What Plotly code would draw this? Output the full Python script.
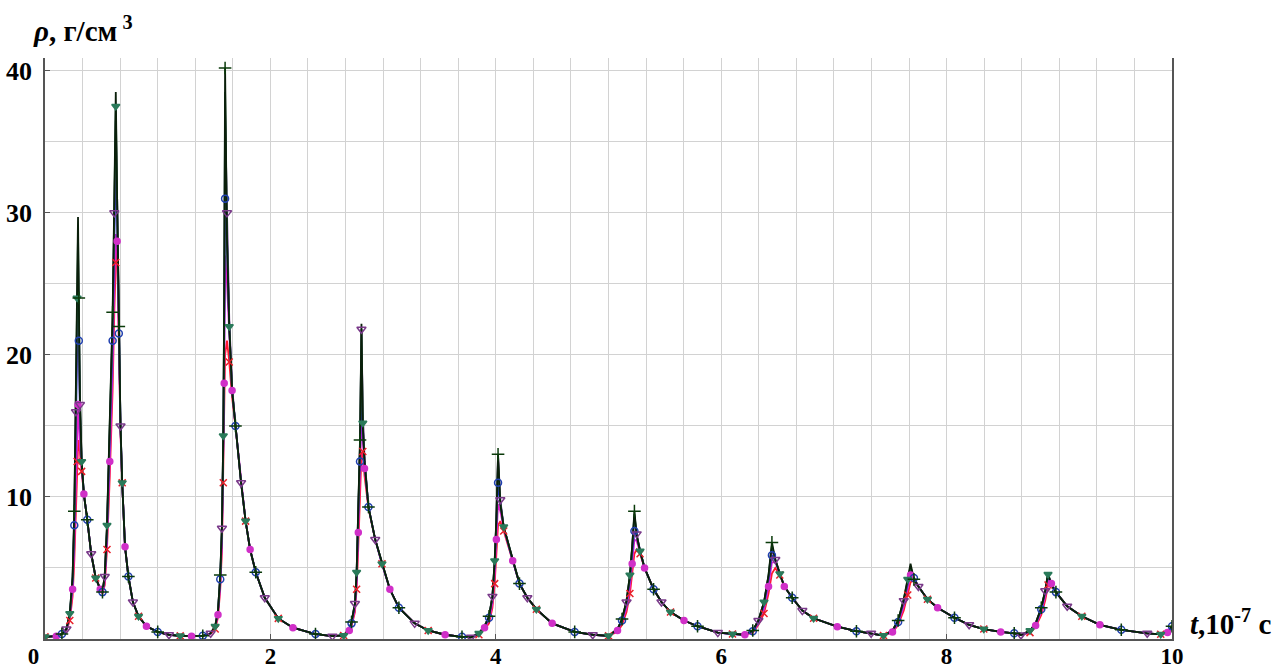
import plotly.graph_objects as go

# time, 1e-7 s
T = [0, 0.1, 0.15, 0.19, 0.22,
     0.245, 0.26, 0.275, 0.285, 0.293, 0.30, 0.31, 0.325, 0.345,
     0.375, 0.41, 0.45, 0.49, 0.51,
     0.53, 0.55, 0.575, 0.60, 0.615, 0.628, 0.64, 0.655, 0.67, 0.685,
     0.71, 0.74, 0.78, 0.83, 0.9, 1.0, 1.1, 1.2, 1.3, 1.4, 1.47, 1.51,
     1.535, 1.555, 1.57, 1.582, 1.59, 1.598, 1.615, 1.635, 1.66, 1.69,
     1.74, 1.78, 1.82, 1.87, 1.95, 2.07, 2.2, 2.4, 2.55, 2.65, 2.7,
     2.72, 2.75, 2.765, 2.78, 2.795, 2.808, 2.82, 2.835, 2.87,
     2.93, 2.99, 3.06, 3.14, 3.28, 3.4, 3.55, 3.7, 3.78, 3.85, 3.9,
     3.94, 3.97, 3.99, 4.005, 4.02, 4.04, 4.07,
     4.15, 4.21, 4.28, 4.36, 4.5, 4.7, 4.86, 5.0, 5.08, 5.12,
     5.16, 5.19, 5.21, 5.23, 5.25, 5.28,
     5.32, 5.40, 5.47, 5.55, 5.67, 5.79, 5.97, 6.1, 6.21, 6.28, 6.33,
     6.38, 6.42, 6.45, 6.48, 6.52,
     6.56, 6.63, 6.72, 6.82, 7.03, 7.2, 7.33, 7.44, 7.52, 7.57,
     7.62, 7.655, 7.68, 7.71,
     7.75, 7.83, 7.92, 8.07, 8.2, 8.33, 8.48, 8.6, 8.66, 8.74, 8.79,
     8.84, 8.875, 8.9, 8.93,
     8.97, 9.07, 9.2, 9.36, 9.55, 9.78, 9.9, 9.96, 10.0]

# density, g/cm^3 — dark line with "+" markers
rho_plus = [0.15, 0.2, 0.35, 0.7, 1.8,
            4.4, 9, 17, 25, 29.7, 24, 17, 12.5, 10.2,
            8.4, 6.0, 4.3, 3.5, 3.3,
            4.5, 8.0, 15, 23, 31, 38.5, 31, 22, 15, 11,
            6.5, 4.4, 2.6, 1.6, 0.9, 0.5, 0.3, 0.22, 0.2, 0.22, 0.4, 0.9,
            2.0, 4.5, 8, 14.5, 24, 40.2, 28, 22, 17.5, 15,
            11, 8.3, 6.3, 4.7, 2.9, 1.45, 0.8, 0.35, 0.2, 0.25, 0.7,
            1.2, 2.5, 4.7, 9.3, 14, 22.2, 15, 12.5, 9.3,
            7.0, 5.3, 3.5, 2.2, 1.1, 0.6, 0.3, 0.15, 0.12, 0.4, 0.9,
            1.6, 3.0, 5.5, 8.5, 13.0, 9.5, 7.9,
            5.5, 3.9, 2.9, 2.1, 1.1, 0.5, 0.3, 0.22, 0.7, 1.4,
            2.7, 4.5, 6.5, 9.0, 7.3, 6.2,
            5.0, 3.5, 2.6, 1.9, 1.3, 0.9, 0.45, 0.35, 0.3, 0.6, 1.3,
            2.6, 4.5, 6.8, 5.6, 4.6,
            3.7, 2.9, 2.0, 1.46, 0.87, 0.55, 0.4, 0.24, 0.6, 1.3,
            2.8, 4.2, 5.3, 4.2,
            3.7, 2.8, 2.2, 1.5, 1.0, 0.7, 0.5, 0.4, 0.28, 0.6, 1.1,
            2.2, 3.4, 4.65, 3.8,
            3.3, 2.3, 1.6, 1.0, 0.65, 0.4, 0.33, 0.5, 0.9]

# green filled triangles
rho_green = [0.15, 0.2, 0.35, 0.7, 1.8,
             4.4, 8.8, 16.5, 24, 28.5, 23.5, 17, 12.5, 10.2,
             8.4, 6.0, 4.3, 3.5, 3.3,
             4.5, 8.0, 14.8, 22.5, 30.5, 37.5, 31, 22, 15, 11,
             6.5, 4.4, 2.6, 1.6, 0.9, 0.5, 0.3, 0.22, 0.2, 0.22, 0.4, 0.9,
             2.0, 4.5, 8, 14.3, 23.5, 38.5, 28.5, 22, 17.5, 15,
             11, 8.3, 6.3, 4.7, 2.9, 1.45, 0.8, 0.35, 0.2, 0.25, 0.7,
             1.2, 2.5, 4.7, 9.2, 13.8, 21.8, 15.2, 12.5, 9.3,
             7.0, 5.3, 3.5, 2.2, 1.1, 0.6, 0.3, 0.15, 0.12, 0.4, 0.9,
             1.6, 3.0, 5.5, 8.4, 12.6, 9.6, 7.9,
             5.5, 3.9, 2.9, 2.1, 1.1, 0.5, 0.3, 0.22, 0.7, 1.4,
             2.7, 4.5, 6.5, 8.8, 7.3, 6.2,
             5.0, 3.5, 2.6, 1.9, 1.3, 0.9, 0.45, 0.35, 0.3, 0.6, 1.3,
             2.6, 4.5, 6.6, 5.6, 4.6,
             3.7, 2.9, 2.0, 1.46, 0.87, 0.55, 0.4, 0.24, 0.6, 1.3,
             2.8, 4.2, 5.1, 4.2,
             3.7, 2.8, 2.2, 1.5, 1.0, 0.7, 0.5, 0.4, 0.28, 0.6, 1.1,
             2.2, 3.4, 4.55, 3.8,
             3.3, 2.3, 1.6, 1.0, 0.65, 0.4, 0.33, 0.5, 0.9]

# purple open triangles
rho_purple = [0.15, 0.2, 0.35, 0.7, 1.75,
              4.2, 8.5, 16, 24, 27.2, 23, 16.5, 12.5, 10.2,
              8.4, 6.0, 4.3, 3.5, 3.3,
              4.4, 7.8, 14.5, 22, 30, 36.5, 31, 22, 15, 11,
              6.5, 4.4, 2.6, 1.6, 0.9, 0.5, 0.3, 0.22, 0.2, 0.22, 0.4, 0.9,
              2.0, 4.4, 7.8, 14, 23, 37, 30, 22.5, 17.8, 15,
              11, 8.3, 6.3, 4.7, 2.9, 1.45, 0.8, 0.35, 0.2, 0.25, 0.7,
              1.2, 2.5, 4.6, 9, 13.5, 21.8, 16, 12.8, 9.3,
              7.0, 5.3, 3.5, 2.2, 1.1, 0.6, 0.3, 0.15, 0.12, 0.4, 0.9,
              1.6, 3.0, 5.4, 8.3, 12.9, 9.8, 7.9,
              5.5, 3.9, 2.9, 2.1, 1.1, 0.5, 0.3, 0.22, 0.7, 1.4,
              2.6, 4.4, 6.4, 8.6, 7.4, 6.2,
              5.0, 3.5, 2.6, 1.9, 1.3, 0.9, 0.45, 0.35, 0.3, 0.6, 1.3,
              2.6, 4.4, 6.3, 5.6, 4.6,
              3.7, 2.9, 2.0, 1.46, 0.87, 0.55, 0.4, 0.24, 0.6, 1.3,
              2.7, 4.1, 5.0, 4.3,
              3.7, 2.8, 2.2, 1.5, 1.0, 0.7, 0.5, 0.4, 0.28, 0.6, 1.1,
              2.2, 3.4, 4.5, 3.9,
              3.3, 2.3, 1.6, 1.0, 0.65, 0.4, 0.33, 0.5, 0.9]

# blue open circles
rho_blue = [0.15, 0.2, 0.35, 0.7, 1.7,
            4.0, 8, 15, 22, 24, 21, 16, 12.5, 10.2,
            8.4, 6.0, 4.3, 3.5, 3.3,
            4.3, 7.5, 14, 21, 28, 33, 30, 21.5, 15, 11,
            6.5, 4.4, 2.6, 1.6, 0.9, 0.5, 0.3, 0.22, 0.2, 0.22, 0.4, 0.85,
            1.9, 4.2, 7.5, 13.5, 21, 31, 28, 22, 17.5, 15,
            11, 8.3, 6.3, 4.7, 2.9, 1.45, 0.8, 0.35, 0.2, 0.25, 0.65,
            1.1, 2.4, 4.4, 8.5, 12.5, 17, 15, 12.5, 9.3,
            7.0, 5.3, 3.5, 2.2, 1.1, 0.6, 0.3, 0.15, 0.12, 0.4, 0.85,
            1.5, 2.9, 5.2, 8.0, 11, 9.6, 7.9,
            5.5, 3.9, 2.9, 2.1, 1.1, 0.5, 0.3, 0.22, 0.65, 1.3,
            2.5, 4.2, 6.0, 7.6, 7.2, 6.2,
            5.0, 3.5, 2.6, 1.9, 1.3, 0.9, 0.45, 0.35, 0.3, 0.55, 1.2,
            2.4, 4.2, 5.9, 5.5, 4.6,
            3.7, 2.9, 2.0, 1.46, 0.87, 0.55, 0.4, 0.24, 0.55, 1.2,
            2.6, 4.0, 4.8, 4.3,
            3.7, 2.8, 2.2, 1.5, 1.0, 0.7, 0.5, 0.4, 0.28, 0.55, 1.0,
            2.1, 3.3, 4.4, 3.9,
            3.3, 2.3, 1.6, 1.0, 0.65, 0.4, 0.33, 0.5, 0.9]

# magenta filled circles
rho_magenta = [0.15, 0.2, 0.35, 0.65, 1.5,
               3.5, 6.5, 11, 15, 16.5, 15.5, 13.5, 12, 10.2,
               8.4, 6.0, 4.3, 3.5, 3.2,
               4.0, 6.8, 12.5, 19, 25, 28.5, 28, 21, 14.5, 11,
               6.5, 4.4, 2.6, 1.6, 0.9, 0.5, 0.3, 0.22, 0.2, 0.22, 0.38, 0.8,
               1.7, 3.8, 6.8, 12, 18, 27, 25, 21.5, 17.5, 15,
               11, 8.3, 6.3, 4.7, 2.9, 1.45, 0.8, 0.35, 0.2, 0.25, 0.6,
               1.0, 2.1, 3.9, 7.5, 11, 15.5, 14, 12, 9.3,
               7.0, 5.3, 3.5, 2.2, 1.1, 0.6, 0.3, 0.15, 0.12, 0.35, 0.8,
               1.3, 2.5, 4.5, 7.0, 9.5, 9.0, 7.8,
               5.5, 3.9, 2.9, 2.1, 1.1, 0.5, 0.3, 0.22, 0.6, 1.2,
               2.2, 3.7, 5.3, 7.0, 6.9, 6.1,
               5.0, 3.5, 2.6, 1.9, 1.3, 0.9, 0.45, 0.35, 0.3, 0.5, 1.1,
               2.1, 3.7, 5.4, 5.4, 4.6,
               3.7, 2.9, 2.0, 1.46, 0.87, 0.55, 0.4, 0.24, 0.5, 1.1,
               2.3, 3.6, 4.5, 4.3,
               3.7, 2.8, 2.2, 1.5, 1.0, 0.7, 0.5, 0.4, 0.28, 0.5, 0.95,
               1.9, 3.0, 4.2, 3.9,
               3.3, 2.3, 1.6, 1.0, 0.65, 0.4, 0.33, 0.45, 0.8]

# red crosses
rho_red = [0.15, 0.2, 0.35, 0.6, 1.3,
           3.0, 5.5, 9, 12.5, 13.5, 14, 13.2, 11.8, 10.2,
           8.4, 6.0, 4.3, 3.5, 3.2,
           3.8, 6.3, 11.5, 17.5, 23, 26.5, 27.5, 21, 14.5, 11,
           6.5, 4.4, 2.6, 1.6, 0.9, 0.5, 0.3, 0.22, 0.2, 0.22, 0.35, 0.7,
           1.5, 3.5, 6.2, 11, 15.5, 20, 21, 19.5, 17, 15,
           11, 8.3, 6.3, 4.7, 2.9, 1.45, 0.8, 0.35, 0.2, 0.25, 0.55,
           0.9, 1.9, 3.5, 6.5, 9.5, 13, 13.2, 11.5, 9.2,
           7.0, 5.3, 3.5, 2.2, 1.1, 0.6, 0.3, 0.15, 0.12, 0.3, 0.7,
           1.1, 2.2, 3.9, 6.0, 8.0, 8.3, 7.6,
           5.5, 3.9, 2.9, 2.1, 1.1, 0.5, 0.3, 0.22, 0.5, 1.0,
           1.9, 3.2, 4.6, 6.0, 6.3, 6.0,
           5.0, 3.5, 2.6, 1.9, 1.3, 0.9, 0.45, 0.35, 0.3, 0.45, 1.0,
           1.8, 3.2, 4.6, 5.0, 4.5,
           3.7, 2.9, 2.0, 1.46, 0.87, 0.55, 0.4, 0.24, 0.45, 1.0,
           2.0, 3.1, 4.0, 4.1,
           3.7, 2.8, 2.2, 1.5, 1.0, 0.7, 0.5, 0.4, 0.28, 0.45, 0.85,
           1.7, 2.7, 3.8, 3.8,
           3.3, 2.3, 1.6, 1.0, 0.65, 0.4, 0.33, 0.42, 0.75]

x_labels = [0, 2, 4, 6, 8, 10]
y_labels = [10, 20, 30, 40]

series = [
    # name, values, line colour, marker symbol, marker colour, size, marker offset
    ("red", rho_red, "#ff1a2e", "x-thin", "#e8202a", 7, 0),
    ("magenta", rho_magenta, "#e020d0", "circle", "#d030c8", 6, 1),
    ("blue", rho_blue, "#1f2fd0", "circle-open", "#2040b0", 7, 2),
    ("purple", rho_purple, "#6a2a8a", "triangle-down-open", "#7a3a8a", 8, 3),
    ("green", rho_green, "#1a6a3a", "triangle-down", "#2a7a5a", 7, 0),
    ("plus", rho_plus, "#0a1f0a", "cross-thin", "#0a3a0a", 9, 2),
]

fig = go.Figure()
for name, vals, lc, sym, mc, ms, off in series:
    fig.add_trace(go.Scatter(x=T, y=vals, mode="lines",
                             line=dict(color=lc, width=1.8), showlegend=False,
                             hoverinfo="skip"))
for name, vals, lc, sym, mc, ms, off in series:
    fig.add_trace(go.Scatter(x=T[off::4], y=vals[off::4], mode="markers",
                             marker=dict(symbol=sym, size=ms, color=mc,
                                         line=dict(color=mc, width=1.5)),
                             showlegend=False, name=name))

font_x = dict(family="Liberation Serif", size=23, color="black", weight="bold")
font_y = dict(family="Liberation Serif", size=26, color="black", weight="bold")
font_t = dict(family="Liberation Serif", size=29, color="black", weight="bold")

x_grid = [k / 3 for k in range(31)]
y_grid = [5, 15, 25, 35]

fig.update_layout(
    width=1279, height=670,
    margin=dict(l=45, r=107, t=58, b=31),
    paper_bgcolor="white", plot_bgcolor="white",
    xaxis=dict(range=[0, 10], tickvals=x_labels, automargin=False,
               ticktext=["0\u00a0\u00a0\u00a0\u00a0", "2", "4", "6", "8", "10"],
               tickfont=font_x, showgrid=True, gridcolor="#d2d2d2", gridwidth=1,
               minor=dict(tickvals=x_grid, showgrid=True, gridcolor="#d2d2d2", gridwidth=1),
               showline=True, linecolor="#555555", linewidth=1.5, zeroline=False,
               ticks="inside", ticklen=5, tickcolor="#555555", ticklabelstandoff=-4),
    yaxis=dict(range=[0, 40.9], tickvals=y_labels, tickfont=font_y, automargin=False,
               showgrid=True, gridcolor="#d2d2d2", gridwidth=1,
               minor=dict(tickvals=y_grid, showgrid=True, gridcolor="#d2d2d2", gridwidth=1),
               showline=True, mirror=True, linecolor="#555555", linewidth=1.5,
               zeroline=False, ticks="inside", ticklen=5, tickcolor="#555555",
               ticklabelstandoff=6),
)

fig.add_annotation(xref="paper", yref="paper", x=-0.012, y=1.05,
                   xanchor="left", yanchor="middle", showarrow=False,
                   text="<i>ρ</i>, г/см<sup>\u00a03</sup>", font=font_t)
fig.add_annotation(xref="paper", yref="paper", x=1.014, y=0.03,
                   xanchor="left", yanchor="middle", showarrow=False,
                   text="<i>t</i>,10<sup>-7</sup>\u00a0с", font=font_t)

fig.write_html("out.html")
